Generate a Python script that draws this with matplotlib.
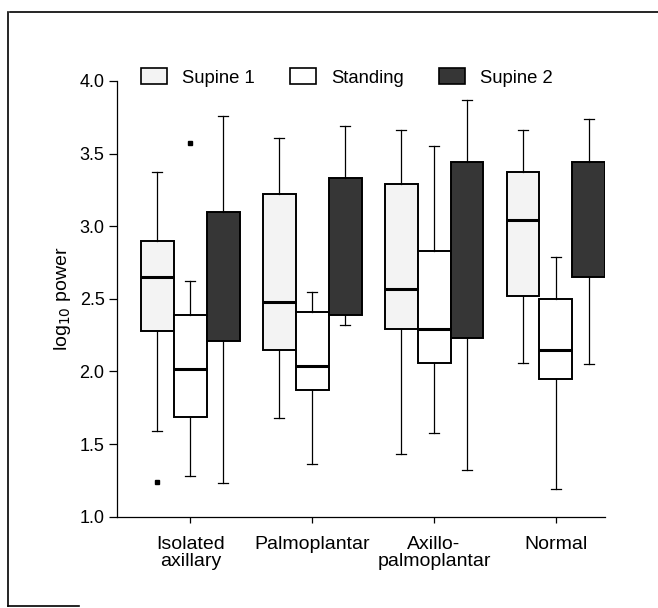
import matplotlib
matplotlib.use("Agg")
import matplotlib.pyplot as plt
from matplotlib.patches import Patch
from matplotlib.lines import Line2D

plt.rcParams['font.family'] = ['Liberation Sans', 'DejaVu Sans']

groups = ['Isolated\naxillary', 'Palmoplantar', 'Axillo-\npalmoplantar', 'Normal']
conditions = ['Supine 1', 'Standing', 'Supine 2']

# box statistics (log10 power)
supine1_whislo = [1.59, 1.68, 1.43, 2.06]
supine1_q1 = [2.28, 2.15, 2.29, 2.52]
supine1_med = [2.65, 2.48, 2.57, 3.04]
supine1_q3 = [2.90, 3.22, 3.29, 3.37]
supine1_whishi = [3.37, 3.61, 3.66, 3.66]
supine1_fliers = [[1.24], [], [], []]

standing_whislo = [1.28, 1.36, 1.58, 1.19]
standing_q1 = [1.69, 1.87, 2.06, 1.95]
standing_med = [2.02, 2.04, 2.29, 2.15]
standing_q3 = [2.39, 2.41, 2.83, 2.50]
standing_whishi = [2.62, 2.55, 3.55, 2.79]
standing_fliers = [[3.57], [], [], []]

supine2_whislo = [1.23, 2.32, 1.32, 2.05]
supine2_q1 = [2.21, 2.39, 2.23, 2.65]
supine2_med = [2.65, 2.85, 2.85, 3.05]  # hidden in the dark box
supine2_q3 = [3.10, 3.33, 3.44, 3.44]
supine2_whishi = [3.76, 3.69, 3.87, 3.74]
supine2_fliers = [[], [], [], []]

face_colors = ['#f3f3f3', 'white', '#363636']
offsets = [-0.27, 0.0, 0.27]


def make_stats(whislo, q1, med, q3, whishi, fliers):
    stats = []
    for i in range(len(whislo)):
        stats.append(dict(whislo=whislo[i], q1=q1[i], med=med[i], q3=q3[i],
                          whishi=whishi[i], fliers=fliers[i]))
    return stats


all_stats = [
    make_stats(supine1_whislo, supine1_q1, supine1_med, supine1_q3, supine1_whishi, supine1_fliers),
    make_stats(standing_whislo, standing_q1, standing_med, standing_q3, standing_whishi, standing_fliers),
    make_stats(supine2_whislo, supine2_q1, supine2_med, supine2_q3, supine2_whishi, supine2_fliers),
]

fig = plt.figure(figsize=(6.58, 6.08), dpi=100)
ax = fig.add_axes([0.178, 0.150, 0.741, 0.717])

centers = [1, 2, 3, 4]
for k in range(3):
    pos = [c + offsets[k] for c in centers]
    med_lw = 0 if k == 2 else 2.2
    ax.bxp(all_stats[k], positions=pos, widths=0.27, patch_artist=True,
           showfliers=True, manage_ticks=False,
           boxprops=dict(facecolor=face_colors[k], edgecolor='black', linewidth=1.4),
           medianprops=dict(color='black', linewidth=med_lw),
           whiskerprops=dict(color='black', linewidth=0.9),
           capprops=dict(color='black', linewidth=0.9),
           capwidths=0.08,
           flierprops=dict(marker='s', markersize=3.5, markerfacecolor='black',
                           markeredgecolor='black'))

ax.set_xlim(0.4, 4.4)
ax.set_ylim(1.0, 4.0)
ax.set_yticks([1.0, 1.5, 2.0, 2.5, 3.0, 3.5, 4.0])
ax.set_yticklabels(['1.0', '1.5', '2.0', '2.5', '3.0', '3.5', '4.0'], fontsize=13)
ax.set_xticks(centers)
ax.set_xticklabels(groups, fontsize=14, linespacing=0.95)
ax.tick_params(axis='y', direction='out', length=6, width=0.9, pad=3)
ax.tick_params(axis='x', direction='out', length=4, width=0.9, pad=10)
ax.spines['top'].set_visible(False)
ax.spines['right'].set_visible(False)
ax.spines['left'].set_linewidth(0.9)
ax.spines['bottom'].set_linewidth(0.9)
ax.set_ylabel('log$_{10}$ power', fontsize=14, labelpad=5)

handles = [Patch(facecolor=face_colors[k], edgecolor='black', linewidth=1.2) for k in range(3)]
fig.legend(handles, conditions, loc='center left', bbox_to_anchor=(0.214, 0.873),
           ncol=3, frameon=False, fontsize=13.3, handlelength=1.4, handleheight=1.0,
           columnspacing=1.9, handletextpad=0.83, borderpad=0, borderaxespad=0)

# scanned page frame
fig.add_artist(Line2D([0.015, 1.0], [0.980, 0.980], color='black', linewidth=1.2))
fig.add_artist(Line2D([0.012, 0.012], [0.003, 0.980], color='black', linewidth=1.2))
fig.add_artist(Line2D([0.012, 0.12], [0.004, 0.004], color='black', linewidth=1.2))

fig.savefig('out.png', dpi=100)
